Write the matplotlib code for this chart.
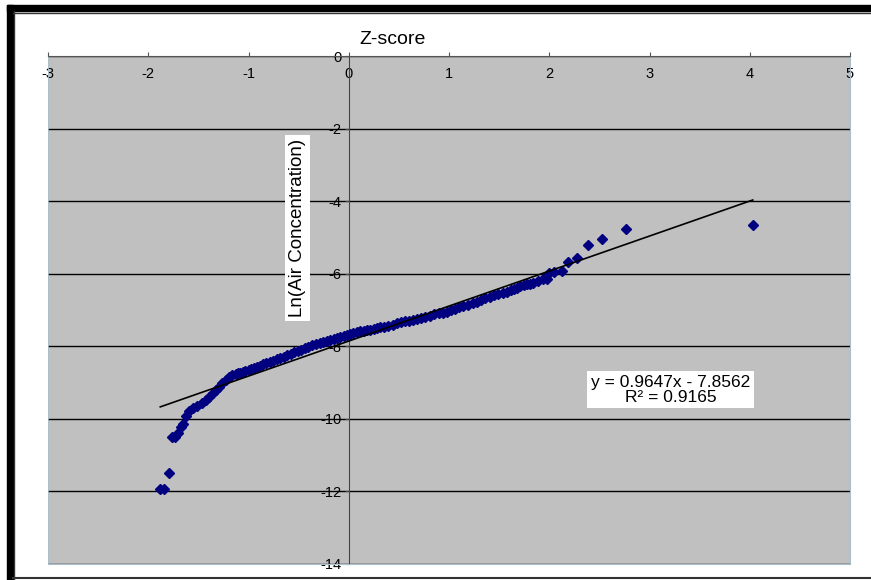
import matplotlib
matplotlib.use('Agg')
import matplotlib.pyplot as plt
from matplotlib.patches import Rectangle
from matplotlib.lines import Line2D

plt.rcParams['font.family'] = ['Liberation Sans', 'DejaVu Sans']
plt.rcParams['axes.unicode_minus'] = False

# z-scores and ln(air concentration)
z_score = [-1.88, -1.84, -1.79, -1.76, -1.73, -1.70, -1.67, -1.65, -1.62, -1.59,
           -1.55, -1.51, -1.46, -1.42, -1.39, -1.35, -1.32, -1.29, -1.26, -1.22,
           -1.19, -1.16, -1.12, -1.10, -1.08, -1.05, -1.03, -1.00, -0.98, -0.95,
           -0.92, -0.89, -0.86, -0.83, -0.79, -0.76, -0.72, -0.69, -0.65, -0.62,
           -0.58, -0.55, -0.51, -0.48, -0.44, -0.41, -0.37, -0.33, -0.29, -0.26,
           -0.22, -0.19, -0.15, -0.12, -0.09, -0.05, -0.02, 0.01, 0.04, 0.08,
           0.11, 0.15, 0.18, 0.21, 0.25, 0.28, 0.31, 0.35, 0.39, 0.44,
           0.48, 0.52, 0.56, 0.60, 0.64, 0.68, 0.72, 0.76, 0.81, 0.85,
           0.90, 0.94, 0.98, 1.02, 1.06, 1.10, 1.14, 1.19, 1.24, 1.28,
           1.32, 1.36, 1.41, 1.45, 1.49, 1.54, 1.58, 1.62, 1.65, 1.68,
           1.71, 1.75, 1.78, 1.81, 1.84, 1.89, 1.94, 1.98, 2.00, 2.05,
           2.13, 2.19, 2.28, 2.39, 2.53, 2.77, 4.03]
ln_conc = [-11.92, -11.92, -11.49, -10.50, -10.50, -10.39, -10.22, -10.14, -9.92, -9.78,
           -9.70, -9.64, -9.56, -9.48, -9.40, -9.29, -9.20, -9.12, -9.01, -8.93,
           -8.85, -8.79, -8.76, -8.75, -8.73, -8.70, -8.68, -8.65, -8.62, -8.60,
           -8.57, -8.53, -8.49, -8.46, -8.43, -8.40, -8.35, -8.32, -8.29, -8.25,
           -8.21, -8.17, -8.13, -8.09, -8.05, -8.01, -7.96, -7.94, -7.91, -7.88,
           -7.85, -7.83, -7.80, -7.77, -7.74, -7.72, -7.69, -7.66, -7.63, -7.61,
           -7.58, -7.57, -7.55, -7.54, -7.52, -7.50, -7.47, -7.46, -7.44, -7.40,
           -7.36, -7.33, -7.30, -7.29, -7.27, -7.25, -7.22, -7.19, -7.16, -7.12,
           -7.08, -7.07, -7.05, -7.01, -6.97, -6.93, -6.89, -6.85, -6.81, -6.77,
           -6.72, -6.68, -6.64, -6.60, -6.56, -6.53, -6.50, -6.46, -6.42, -6.38,
           -6.34, -6.31, -6.28, -6.27, -6.26, -6.20, -6.14, -6.14, -5.98, -5.95,
           -5.92, -5.68, -5.57, -5.21, -5.04, -4.77, -4.66]

slope = 0.9647
intercept = -7.8562
r2 = 0.9165

xticks = [-3, -2, -1, 0, 1, 2, 3, 4, 5]
yticks = [0, -2, -4, -6, -8, -10, -12, -14]

fig = plt.figure(figsize=(8.71, 5.80), dpi=100)
ax = fig.add_axes([48/871, 1-564/580, 802/871, 508/580])
ax.set_facecolor('#c0c0c0')

ax.set_xlim(-3, 5)
ax.set_ylim(-14, 0)
ax.set_xticks(xticks)
ax.set_yticks(yticks)

# horizontal gridlines
ax.yaxis.grid(True, color='black', lw=1.0)
ax.set_axisbelow(True)

# x axis on top (y=0), y axis through x=0
ax.spines['top'].set_color('#555555')
ax.spines['left'].set_position(('data', 0))
ax.spines['left'].set_color('#444444')
ax.spines['left'].set_zorder(1)
ax.spines['right'].set_color('#a9bfcc')
ax.spines['bottom'].set_color('#a9bfcc')
ax.axvline(-3, color='#a9bfcc', lw=1.2)

ax.tick_params(axis='x', top=True, labeltop=True, bottom=False, labelbottom=False,
               direction='out', length=3, color='#555555', pad=-21, labelsize=10.5)
ax.tick_params(axis='y', direction='out', length=3, color='#444444', pad=2,
               labelsize=10.5)

ax.plot(z_score, ln_conc, linestyle='none', marker='D', ms=5,
        color='#000080', zorder=3)

x0, x1 = min(z_score), max(z_score)
ax.plot([x0, x1], [slope*x0 + intercept, slope*x1 + intercept],
        color='black', lw=1.2, zorder=4)

ax.set_title('Z-score', x=0.43, pad=9, fontsize=14)

ax.text(-0.51, -4.74, 'Ln(Air Concentration)', rotation=90, ha='center',
        va='center', fontsize=13.5,
        bbox=dict(facecolor='white', edgecolor='none', pad=3), zorder=5)

ax.text(3.21, -9.20, 'y = 0.9647x - 7.8562\nR² = %.4f' % r2, ha='center',
        va='center', fontsize=12.5, multialignment='center', linespacing=1.0,
        bbox=dict(facecolor='white', edgecolor='none', pad=2.5), zorder=5)

# outer frame of the picture
fig.add_artist(Rectangle((7/871, 1-11/580), 1, 6/580, color='black',
                         transform=fig.transFigure))
fig.add_artist(Rectangle((7/871, 0), 6/871, 1-5/580, color='black',
                         transform=fig.transFigure))
fig.add_artist(Line2D([14/871, 14/871], [0, 1-11/580], color='#333333', lw=1,
                      transform=fig.transFigure))
fig.add_artist(Line2D([13/871, 1], [1-12.5/580, 1-12.5/580], color='#333333', lw=1,
                      transform=fig.transFigure))
fig.add_artist(Line2D([13/871, 1], [2/580, 2/580], color='#333333', lw=1.5,
                      transform=fig.transFigure))

fig.savefig('out.png', dpi=100)
